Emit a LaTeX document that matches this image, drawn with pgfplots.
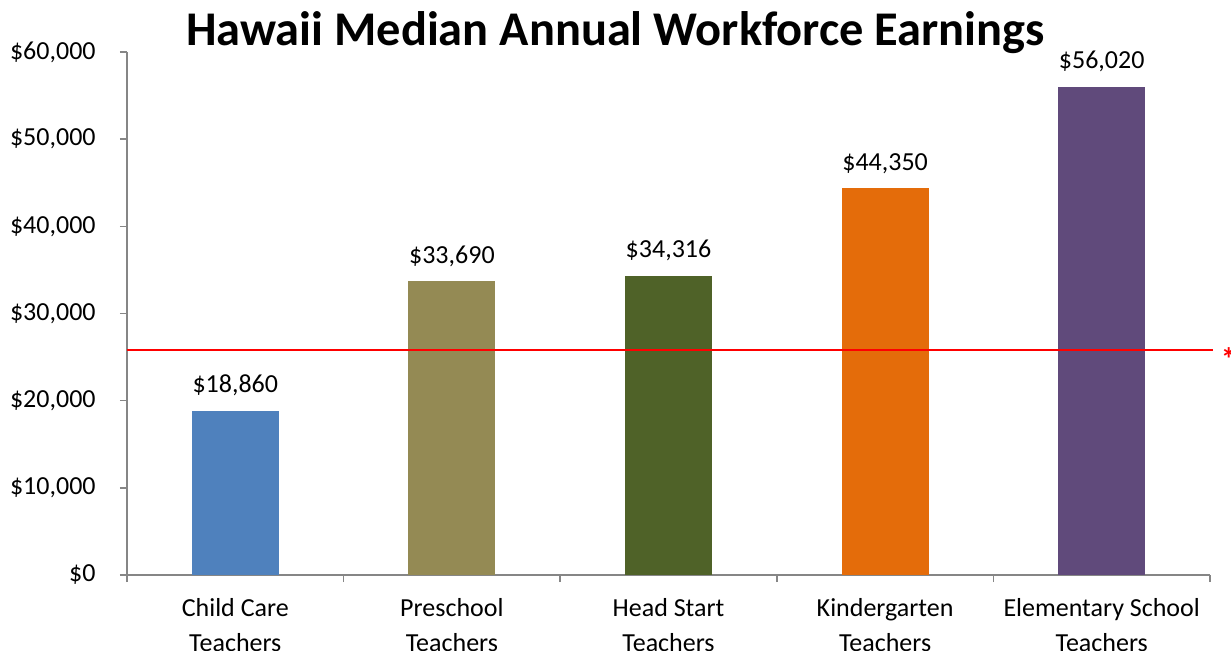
\documentclass[border=0pt]{standalone}
\usepackage{pgfplots}
\pgfplotsset{compat=1.18}
\usepackage{fontspec}
\setmainfont{Carlito}
\definecolor{axisgray}{HTML}{868686}
\definecolor{cA}{HTML}{4F81BD}
\definecolor{cB}{HTML}{948A54}
\definecolor{cC}{HTML}{4F6228}
\definecolor{cD}{HTML}{E46C0A}
\definecolor{cE}{HTML}{604A7B}
\begin{document}
\begin{tikzpicture}
\useasboundingbox (-63.5pt,-37.5pt) rectangle (552pt,287.5pt);
\clip (-63.5pt,-37.5pt) rectangle (552pt,287.5pt);
\begin{axis}[
  at={(0,0)}, anchor=south west,
  scale only axis, width=541.5pt, height=261.5pt,
  xmin=-0.5, xmax=4.5, ymin=0, ymax=60000,
  clip=false,
  axis x line*=bottom, axis y line*=left,
  axis line style={axisgray, line width=0.75pt},
  tick style={axisgray, line width=0.75pt},
  tick align=outside,
  major tick length=3.5pt, minor tick length=3.5pt,
  xtick={0,1,2,3,4},
  minor xtick={-0.5,0.5,1.5,2.5,3.5,4.5},
  major x tick style={draw=none},
  xticklabels={{Child Care\\Teachers},{Preschool\\Teachers},{Head Start\\Teachers},{Kindergarten\\Teachers},{Elementary School\\Teachers}},
  xticklabel style={align=center, font={\fontsize{13}{17.5}\selectfont}, anchor=north, inner sep=0pt, yshift=-8pt},
  ytick={0,10000,20000,30000,40000,50000,60000},
  scaled y ticks=false,
  /pgf/number format/assume math mode=true,
  /pgf/number format/1000 sep={,},
  /pgf/number format/fixed,
  /pgf/number format/precision=0,
  yticklabel={\$\pgfmathprintnumber{\tick}},
  yticklabel style={font={\fontsize{13}{15.6}\selectfont}, anchor=east, inner sep=0pt, xshift=-12pt},
  nodes near coords={\$\pgfmathprintnumber{\pgfplotspointmeta}},
  nodes near coords align={anchor=base},
  every node near coord/.append style={font={\fontsize{13}{15.6}\selectfont}, black, inner sep=0pt, yshift=9pt},
]
\addplot[ybar, bar width=43.5pt, bar shift=0pt, fill=cA, draw=none] coordinates {(0,18860)};
\addplot[ybar, bar width=43.5pt, bar shift=0pt, fill=cB, draw=none] coordinates {(1,33690)};
\addplot[ybar, bar width=43.5pt, bar shift=0pt, fill=cC, draw=none] coordinates {(2,34316)};
\addplot[ybar, bar width=43.5pt, bar shift=0pt, fill=cD, draw=none] coordinates {(3,44350)};
\addplot[ybar, bar width=43.5pt, bar shift=0pt, fill=cE, draw=none] coordinates {(4,56020)};
\addplot[red, line width=1pt, mark=none, nodes near coords={}] coordinates {(-0.5,25800) (4.514,25800)};
\node[red, font={\bfseries\fontsize{16}{18}\selectfont}, anchor=west, inner sep=0pt, yshift=-4.5pt] at (axis cs:4.548,25800) {*};
\end{axis}
\node[anchor=base, font={\bfseries\fontsize{24.2}{29}\selectfont}] at (244.25pt,265pt) {Hawaii Median Annual Workforce Earnings};
\end{tikzpicture}
\end{document}
